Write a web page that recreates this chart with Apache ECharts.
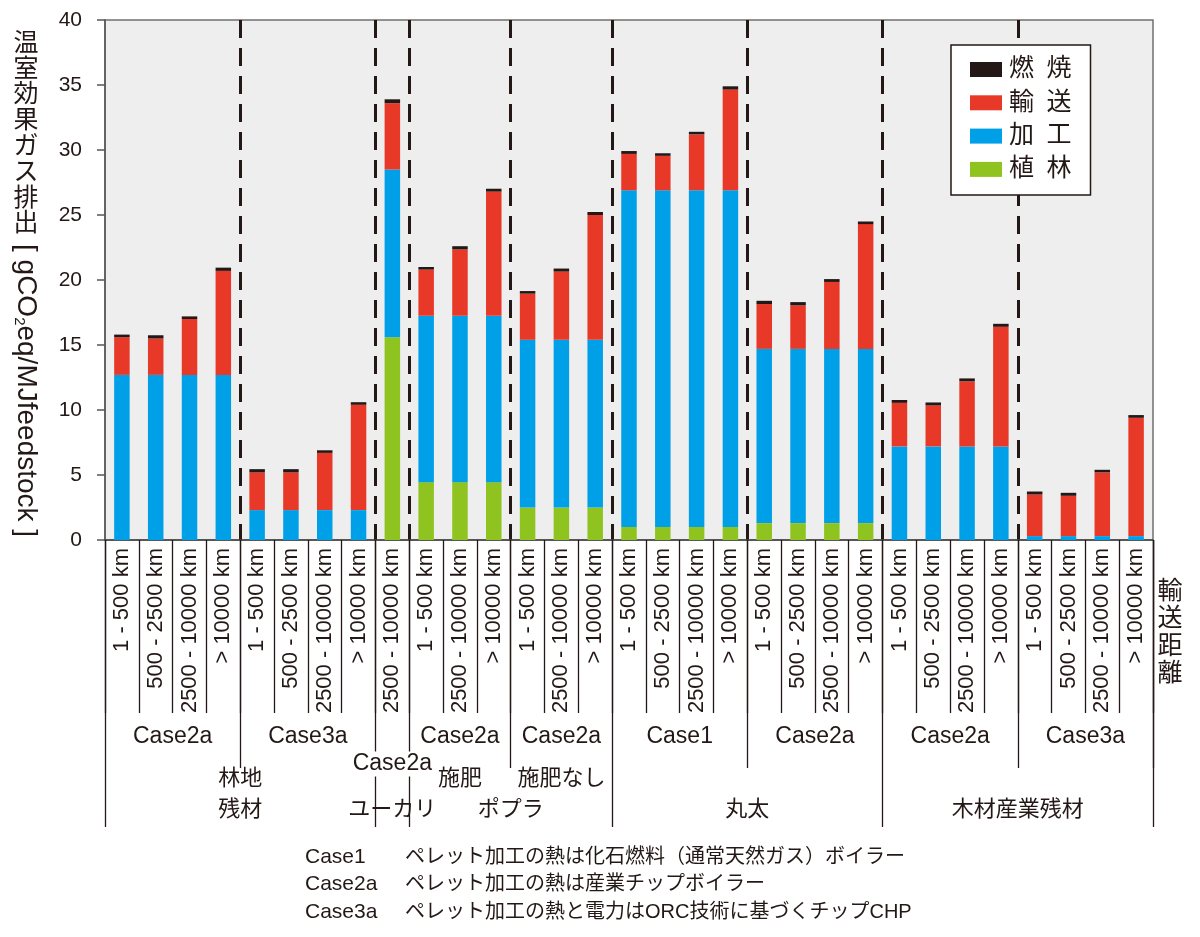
<!DOCTYPE html>
<html><head><meta charset="utf-8">
<script src="https://cdn.jsdelivr.net/npm/echarts@6/dist/echarts.min.js"></script>
<style>html,body{margin:0;padding:0;background:#fff}#c{width:1200px;height:937px}</style>
</head><body><div id="c"></div>
<script>
// ---- data ----
const categories = [
  '1 - 500 km','500 - 2500 km','2500 - 10000 km','> 10000 km',
  '1 - 500 km','500 - 2500 km','2500 - 10000 km','> 10000 km',
  '2500 - 10000 km',
  '1 - 500 km','2500 - 10000 km','> 10000 km',
  '1 - 500 km','2500 - 10000 km','> 10000 km',
  '1 - 500 km','500 - 2500 km','2500 - 10000 km','> 10000 km',
  '1 - 500 km','500 - 2500 km','2500 - 10000 km','> 10000 km',
  '1 - 500 km','500 - 2500 km','2500 - 10000 km','> 10000 km',
  '1 - 500 km','500 - 2500 km','2500 - 10000 km','> 10000 km'
];
const plantValues = [0,0,0,0, 0,0,0,0, 15.6, 4.45,4.45,4.45, 2.5,2.5,2.5, 1.0,1.0,1.0,1.0, 1.3,1.3,1.3,1.3, 0,0,0,0, 0,0,0,0];
const processValues = [12.7,12.7,12.7,12.7, 2.3,2.3,2.3,2.3, 12.9, 12.8,12.8,12.8, 12.9,12.9,12.9, 25.9,25.9,25.9,25.9, 13.4,13.4,13.4,13.4, 7.2,7.2,7.2,7.2, 0.3,0.3,0.3,0.3];
const transportValues = [2.9,2.8,4.3,8.0, 2.9,2.9,4.4,8.1, 5.1, 3.55,5.1,9.55, 3.55,5.25,9.6, 2.8,2.65,4.3,7.75, 3.45,3.35,5.15,9.6, 3.35,3.15,5.0,9.2, 3.2,3.1,4.9,9.1];
const burnValues = [0.2,0.25,0.2,0.25, 0.25,0.25,0.2,0.2, 0.3, 0.2,0.25,0.22, 0.2,0.23,0.23, 0.22,0.2,0.2,0.25, 0.25,0.25,0.22,0.2, 0.22,0.23,0.23,0.23, 0.23,0.23,0.2,0.21];
const seriesNames = ['植林','加工','輸送','燃焼'];
const legendOrder = ['燃焼','輸送','加工','植林'];
const yTicks = [0,5,10,15,20,25,30,35,40];
// group structure (category index ranges)
const caseGroups = [
  ['Case2a',0,3],['Case3a',4,7],['Case2a',9,11],['Case2a',12,14],
  ['Case1',15,18],['Case2a',19,22],['Case2a',23,26],['Case3a',27,30]
];
const singleCase = ['Case2a',8,8];
const subGroups = [['施肥',9,11],['施肥なし',12,14]];
const materials = [['林地\n残材',0,7],['ユーカリ',8,8],['ポプラ',9,14],['丸太',15,22],['木材産業残材',23,30]];
const allBoundaries = [4,8,9,12,15,19,23,27];
const caseBoundaries = [4,12,19,27];
const materialBoundaries = [0,8,9,15,23];
const footnotes = [
  ['Case1','ペレット加工の熱は化石燃料（通常天然ガス）ボイラー'],
  ['Case2a','ペレット加工の熱は産業チップボイラー'],
  ['Case3a','ペレット加工の熱と電力はORC技術に基づくチップCHP']
];

const INK = '#231815';
const FONT = "'Liberation Sans', 'Noto Sans CJK JP', sans-serif";
const colors = {'植林':'#8fc31f','加工':'#00a0e9','輸送':'#e83828','燃焼':INK};
const valuesByName = {'植林':plantValues,'加工':processValues,'輸送':transportValues,'燃焼':burnValues};

const chart = echarts.init(document.getElementById('c'));

function tickAxis(list, len) {
  return {
    type:'category', data: categories, gridIndex:0, position:'bottom', offset:0,
    axisLine:{show:false}, axisLabel:{show:false}, splitLine:{show:false},
    axisTick:{show:true, length:len, interval:(i)=>list.indexOf(i)>=0,
      lineStyle:{color:INK, width:1.3}}
  };
}

const option = {
  animation:false,
  backgroundColor:'#fff',
  textStyle:{fontFamily:FONT, color:INK},
  grid:{left:105, right:47, top:20, bottom:397, show:true, backgroundColor:'#eeeeee',
        borderColor:'#707070', borderWidth:1.5},
  legend:{
    data: legendOrder, orient:'vertical', left:951, top:45,
    backgroundColor:'#fff', borderColor:INK, borderWidth:1.5,
    padding:[12,19,13,19], itemWidth:32, itemHeight:15, itemGap:8.3,
    icon:'rect',
    formatter:(n)=>n.split('').join('\u2002'),
    textStyle:{fontSize:25, lineHeight:25, color:INK, fontFamily:FONT, padding:[0,0,0,2]}
  },
  xAxis:[
    {
      type:'category', data:categories, gridIndex:0, position:'bottom',
      axisLine:{show:true, lineStyle:{color:'#444', width:1.5}},
      axisTick:{show:true, interval:0, length:173, lineStyle:{color:INK, width:1.3}},
      axisLabel:{interval:0, rotate:90, fontSize:22, margin:8, color:INK, fontFamily:FONT},
      splitLine:{show:true, showMinLine:true, showMaxLine:false,
        interval:(i)=>allBoundaries.indexOf(i)>=0,
        lineStyle:{color:INK, width:3, type:[18,10]}}
    },
    tickAxis(caseBoundaries, 228),
    tickAxis(materialBoundaries, 287)
  ],
  yAxis:{
    type:'value', min:0, max:40, interval:5,
    axisLine:{show:true, lineStyle:{color:'#555', width:1.5}},
    axisTick:{show:true, length:8, lineStyle:{color:'#555', width:1.5}},
    axisLabel:{fontSize:21, margin:23, color:INK, fontFamily:FONT,
      formatter:(v)=> yTicks.indexOf(v)>=0 ? String(v) : ''},
    splitLine:{show:false}
  },
  series: seriesNames.map(n=>({
    name:n, type:'bar', stack:'total', barWidth:15.5, xAxisIndex:0,
    itemStyle:{color:colors[n]}, data:valuesByName[n]
  }))
};
chart.setOption(option);

function px(i){ return chart.convertToPixel({xAxisIndex:0}, i); }
function mid(a,b){ return (px(a)+px(b))/2; }
function txt(text, x, y, size, extra){
  return Object.assign({
    type:'text', x:x, y:y, z:100,
    style:Object.assign({text:text, fontSize:size, fontFamily:FONT, fill:INK,
      align:'center', verticalAlign:'middle', textAlign:'center', textVerticalAlign:'middle'}, extra||{})
  });
}
const g = [];
caseGroups.forEach(c=>g.push(txt(c[0], mid(c[1],c[2]), 737, 23)));
g.push(txt(singleCase[0], mid(singleCase[1],singleCase[2]), 764, 23, {backgroundColor:'#fff', padding:[1,1]}));
subGroups.forEach(s=>g.push(txt(s[0], mid(s[1],s[2]), 779, 22)));
materials.forEach(m=>{
  if (m[0].indexOf('\n')>=0) {
    const parts = m[0].split('\n');
    g.push(txt(parts[0], mid(m[1],m[2]), 779, 22));
    g.push(txt(parts[1], mid(m[1],m[2]), 810, 22));
  } else {
    g.push(txt(m[0], mid(m[1],m[2]), 810, 22));
  }
});
// y-axis title (vertical writing)
g.push({type:'text', x:26, y:31, z:100, style:{text:'温\n室\n効\n果\nガ\nス\n排\n出', fontSize:25, lineHeight:25.8,
  fontFamily:FONT, fill:INK, align:'center', verticalAlign:'top', textAlign:'center', textVerticalAlign:'top'}});
g.push({type:'text', x:26, y:244, rotation:-Math.PI/2, z:100, style:{
  text:'{a|[ gCO}{s|2}{a|eq/MJfeedstock ]}', fontFamily:FONT, fill:INK,
  align:'left', verticalAlign:'middle', textAlign:'left', textVerticalAlign:'middle',
  rich:{a:{fontSize:28, fontFamily:FONT, fill:INK, verticalAlign:'bottom', color:INK},
        s:{fontSize:15, fontFamily:FONT, fill:INK, verticalAlign:'bottom', color:INK}}}});
// x-axis title
g.push({type:'text', x:1170, y:578, z:100, style:{text:'輸\n送\n距\n離', fontSize:25, lineHeight:27.5,
  fontFamily:FONT, fill:INK, align:'center', verticalAlign:'top', textAlign:'center', textVerticalAlign:'top'}});
// footnotes
footnotes.forEach((f,i)=>{
  const y = 857 + i*27.5;
  g.push(txt(f[0], 305, y, 21, {align:'left', textAlign:'left'}));
  g.push(txt(f[1], 405, y, 20, {align:'left', textAlign:'left'}));
});
chart.setOption({graphic:{elements:g}});
</script>
</body></html>
